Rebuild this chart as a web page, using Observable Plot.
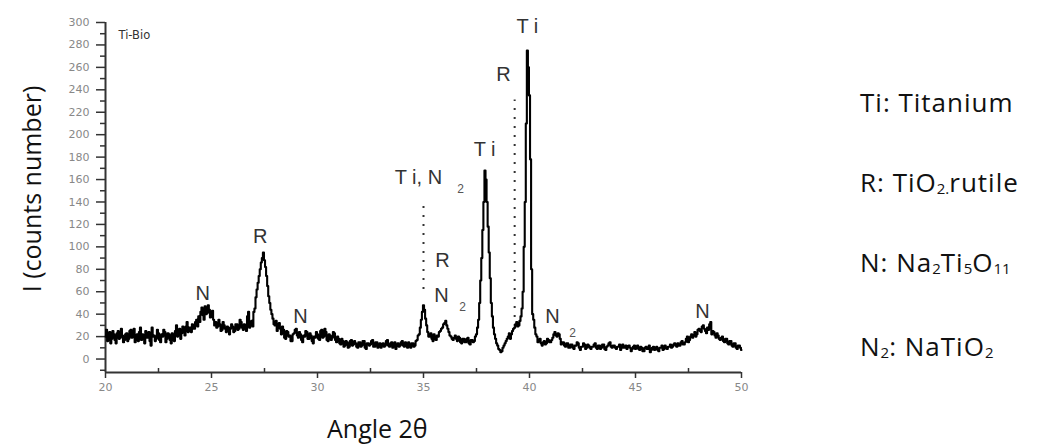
<!DOCTYPE html>
<html><head><meta charset="utf-8">
<script src="https://cdn.jsdelivr.net/npm/d3@7"></script>
<script src="https://cdn.jsdelivr.net/npm/@observablehq/plot@0.6"></script>
<style>
body{margin:0;background:#fff;}
#wrap{position:relative;width:1043px;height:444px;overflow:hidden;}
.txt{position:absolute;font-family:"Open Sans",Lato,sans-serif;font-size:26px;line-height:32px;color:#111;white-space:nowrap;letter-spacing:1px;}
.txt sub{font-size:15px;vertical-align:baseline;position:relative;top:2px;letter-spacing:0;}
.ttl{font-size:25px;line-height:28px;letter-spacing:0;}
</style></head><body><div id="wrap"></div>
<script>
// Scan start angle and step (2θ, degrees)
const startAngle = 20;
const stepAngle = 0.05;
const intensity = [
  20,26,16,22,24,14,18,25,22,17,14,23,25,18,19,27,21,15,17,22,
  23,16,18,25,26,19,20,27,15,21,22,16,24,28,17,22,21,14,25,19,
  19,24,16,12,28,20,21,16,18,26,23,17,15,22,20,26,24,15,18,23,
  22,17,14,23,19,16,25,30,20,24,27,18,23,29,26,21,29,33,24,28,
  28,24,31,27,27,33,35,29,38,33,42,46,39,35,47,40,41,48,44,37,
  38,43,35,30,33,28,29,35,31,25,26,33,30,27,24,29,28,22,27,31,
  29,24,25,31,31,26,27,35,33,28,26,31,30,25,38,42,28,33,34,29,
  42,45,55,62,68,74,80,86,90,95,88,82,74,65,56,50,44,40,36,31,
  30,34,25,28,32,27,22,29,26,19,18,25,24,20,21,16,16,22,23,26,
  27,21,19,24,22,17,15,21,20,25,24,18,18,23,21,16,14,20,19,24,
  22,18,17,25,26,19,20,27,24,17,16,22,21,17,19,24,23,17,15,20,
  18,14,13,18,16,11,12,16,15,10,11,16,17,12,13,16,14,11,10,15,
  15,11,12,16,16,10,9,14,14,12,13,16,17,11,11,15,15,10,12,14,
  10,13,14,11,12,16,17,12,11,14,15,10,13,15,9,12,14,11,12,15,
  16,12,11,15,13,10,15,12,10,14,14,11,12,16,17,21,22,28,35,42,
  48,44,36,30,24,20,20,23,18,16,22,19,17,21,20,24,25,27,28,31,
  32,34,30,27,24,21,20,18,17,19,21,18,16,20,19,15,14,18,18,15,
  15,18,19,14,13,17,17,15,16,20,22,28,35,50,70,90,115,140,168,160,
  140,118,95,72,50,38,28,22,18,14,12,9,8,6,7,10,12,14,16,18,
  20,23,18,22,25,27,28,31,33,29,30,34,38,45,60,100,140,210,275,260,
  235,178,80,40,35,28,22,20,15,16,18,14,12,15,16,13,14,18,17,15,
  15,17,19,22,24,21,20,23,22,18,13,15,15,12,11,14,14,10,10,13,
  13,10,9,12,12,15,14,10,8,11,11,14,13,9,10,13,12,10,9,11,
  11,13,14,10,9,12,12,9,10,13,13,9,8,11,12,14,15,11,10,12,
  12,10,9,11,11,13,8,10,13,10,10,12,9,11,12,10,7,9,11,12,
  9,11,12,9,8,11,10,7,7,10,11,9,9,12,6,8,10,11,8,9,
  11,8,7,10,10,12,8,9,12,10,9,11,11,13,10,11,13,14,12,11,
  14,12,12,15,16,13,13,15,18,20,15,17,20,22,19,21,24,20,22,26,
  27,25,24,29,30,27,25,23,28,26,31,33,22,25,24,21,19,23,21,18,
  17,19,20,16,15,18,18,14,13,16,16,12,11,14,14,10,9,12,12,10,
  8
];
const xTicks = [20, 25, 30, 35, 40, 45, 50];
const xMinorTicks = [22.5, 27.5, 32.5, 37.5, 42.5, 47.5];
const yTicks = [0, 20, 40, 60, 80, 100, 120, 140, 160, 180, 200, 220, 240, 260, 280, 300];
const yMinorTicks = [-10, 10, 30, 50, 70, 90, 110, 130, 150, 170, 190, 210, 230, 250, 270, 290];
// Peak annotations
const labelText = ["N", "R", "N", "T i, N", "R", "N", "T i", "R", "T i", "N", "N"];
const labelX = [24.58, 27.3, 29.2, 34.76, 35.9, 35.85, 37.88, 38.77, 39.9, 41.08, 48.16];
const labelY = [58, 109, 37.5, 162, 88, 57, 187, 254, 296, 37.6, 42];
const subText = ["2", "2", "2"];
const subX = [36.75, 36.84, 42.03];
const subY = [151, 46, 23];
// Dotted marker lines
const markX = [35.0, 39.3];
const markY1 = [62, 29];
const markY2 = [136, 231];
const sampleName = "Ti-Bio";

const pattern = intensity.map((v, i) => ({angle: startAngle + i * stepAngle, counts: v}));
const labels = labelText.map((t, i) => ({t, x: labelX[i], y: labelY[i]}));
const subs = subText.map((t, i) => ({t, x: subX[i], y: subY[i]}));
const marks = markX.map((x, i) => ({x, y1: markY1[i], y2: markY2[i]}));

const chart = Plot.plot({
  width: 1043, height: 444,
  marginLeft: 105, marginRight: 302, marginTop: 22, marginBottom: 72,
  x: {type: "linear", domain: [20, 50]},
  y: {type: "linear", domain: [-12, 300]},
  style: {fontFamily: "DejaVu Sans", background: "#fff"},
  marks: [
    Plot.axisX({ticks: xTicks, tickSize: 6, tickPadding: 5, fontSize: 11, color: "#888", stroke: "#333", strokeWidth: 1.5, label: null}),
    Plot.axisX({ticks: xMinorTicks, tickSize: -4, tickFormat: () => "", stroke: "#333", strokeWidth: 1.5, label: null}),
    Plot.axisY({ticks: yTicks, tickSize: 9, tickPadding: 7, fontSize: 11, color: "#888", stroke: "#333", strokeWidth: 1.5, label: null}),
    Plot.axisY({ticks: yMinorTicks, tickSize: 5, tickFormat: () => "", stroke: "#333", strokeWidth: 1.5, label: null}),
    Plot.ruleX([20], {stroke: "#333", strokeWidth: 2}),
    Plot.ruleY([-12], {stroke: "#333", strokeWidth: 2}),
    Plot.ruleX(marks, {x: "x", y1: "y1", y2: "y2", stroke: "#333", strokeWidth: 2, strokeDasharray: "2,7"}),
    Plot.line(pattern, {x: "angle", y: "counts", curve: "step", stroke: "#000", strokeWidth: 2.1}),
    Plot.text(labels, {x: "x", y: "y", text: "t", fontSize: 20, fontFamily: "Liberation Sans", fill: "#333"}),
    Plot.text(subs, {x: "x", y: "y", text: "t", fontSize: 12, fontFamily: "Liberation Sans", fill: "#555"}),
    Plot.text([sampleName], {text: d => d, frameAnchor: "top-left", dx: 13, dy: 8, fontSize: 11.5, fill: "#333"})
  ]
});
const wrap = document.getElementById("wrap");
chart.style.position = "absolute";
chart.style.left = "0px";
chart.style.top = "0px";
wrap.appendChild(chart);

// Legend & axis titles (HTML text)
const legendHtml = [
  "Ti: Titanium",
  "R: TiO<sub>2.</sub>rutile",
  "N: Na<sub>2</sub>Ti<sub>5</sub>O<sub>11</sub>",
  "N<sub>2</sub>: NaTiO<sub>2</sub>"
];
const legendCenters = [103, 183, 263, 347];
legendHtml.forEach((h, i) => {
  const d = document.createElement("div");
  d.className = "txt";
  d.style.left = "860px";
  d.style.top = (legendCenters[i] - 17) + "px";
  d.innerHTML = h;
  wrap.appendChild(d);
});
const xt = document.createElement("div");
xt.className = "txt ttl";
xt.style.left = "327px";
xt.style.top = "414px";
xt.textContent = "Angle 2θ";
wrap.appendChild(xt);
const yt = document.createElement("div");
yt.className = "txt ttl";
yt.style.left = "31px";
yt.style.top = "189px";
yt.style.transform = "translate(-50%,-50%) rotate(-90deg)";
yt.textContent = "I (counts number)";
wrap.appendChild(yt);
</script>
</body></html>
